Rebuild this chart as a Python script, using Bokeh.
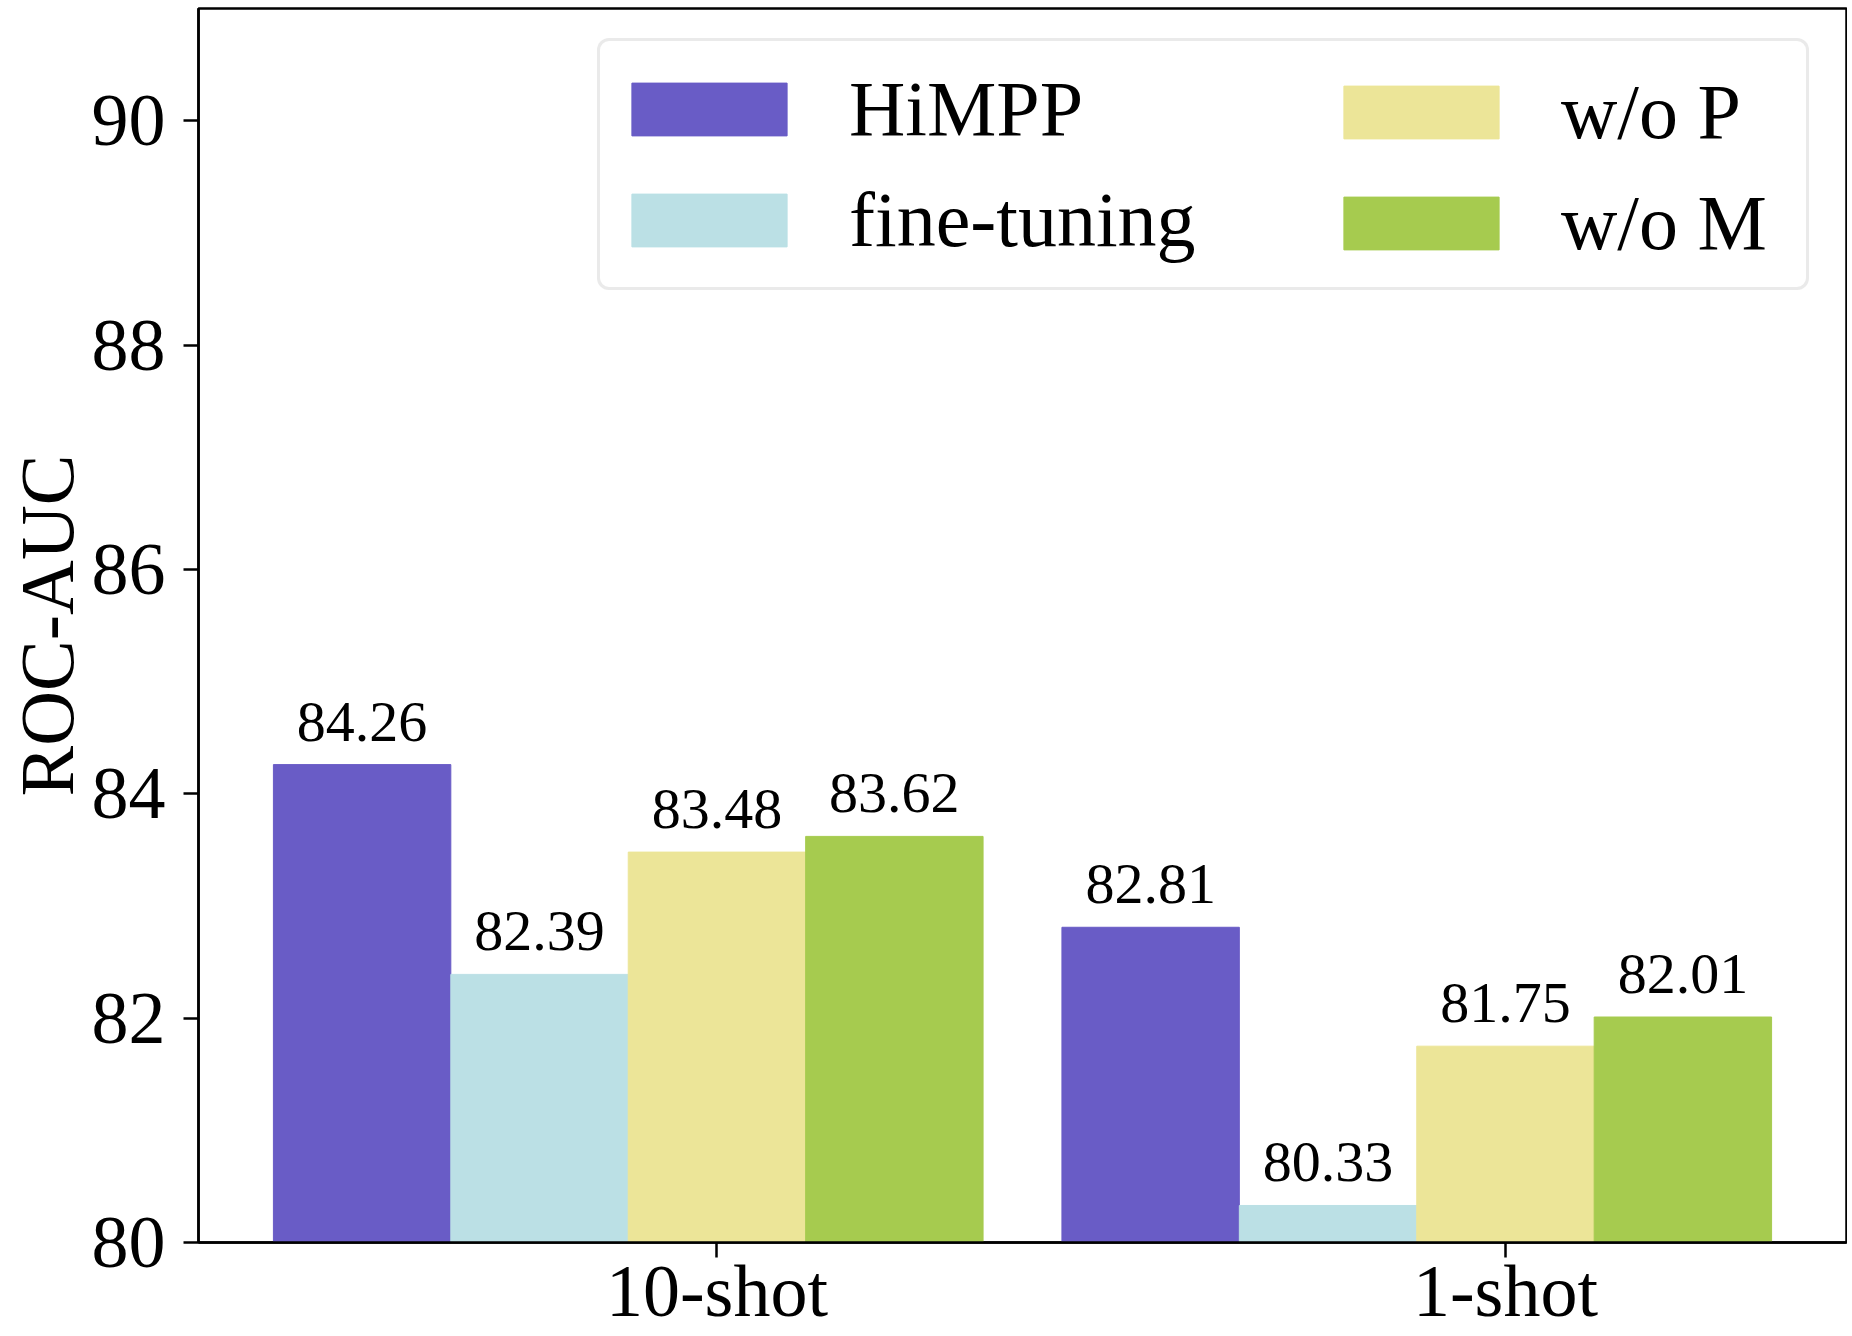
from bokeh.plotting import figure
from bokeh.models import (ColumnDataSource, Range1d, FixedTicker, Legend, LegendItem, LabelSet)
from bokeh.transform import dodge
from bokeh.embed import file_html
from bokeh.resources import INLINE

# ---- data ----
categories = ["10-shot", "1-shot"]
methods = ["HiMPP", "fine-tuning", "w/o P", "w/o M"]
himpp = [84.26, 82.81]
fine_tuning = [82.39, 80.33]
wo_p = [83.48, 81.75]
wo_m = [83.62, 82.01]
y_ticks = [80, 82, 84, 86, 88, 90]
y_label = "ROC-AUC"

# ---- style ----
colors = ["#695CC6", "#BBE0E5", "#ECE598", "#A6CB4F"]
bar_w = 0.225
offsets = [-2 * bar_w, -bar_w, 0.0, bar_w]
FONT = "Liberation Serif"

series = [himpp, fine_tuning, wo_p, wo_m]
data = dict(x=list(range(len(categories))), cat=categories)
for i, vals in enumerate(series):
    data[f"s{i}"] = vals
    data[f"t{i}"] = [f"{v:.2f}" for v in vals]
src = ColumnDataSource(data)

p = figure(width=1847, height=1336, output_backend="svg", toolbar_location=None,
           x_range=Range1d(-0.6575, 1.4325), y_range=Range1d(80, 91),
           min_border_left=198, min_border_right=1, min_border_top=8, min_border_bottom=94)

renderers = []
for i, m in enumerate(methods):
    r = p.vbar(x=dodge("x", offsets[i], range=p.x_range), top=f"s{i}", bottom=80,
               width=bar_w, source=src, fill_color=colors[i], line_color=colors[i], line_width=1)
    renderers.append(r)
    lbl = LabelSet(x=dodge("x", offsets[i], range=p.x_range), y=f"s{i}", text=f"t{i}",
                   source=src, text_align="center", text_baseline="alphabetic",
                   y_offset=24, text_font=FONT, text_font_size="58px", text_color="black")
    p.add_layout(lbl)

# axes
p.xgrid.visible = False
p.ygrid.visible = False
p.outline_line_color = "black"
p.outline_line_width = 2.5
p.outline_line_alpha = 1

p.yaxis.ticker = FixedTicker(ticks=y_ticks)
p.xaxis.ticker = FixedTicker(ticks=list(range(len(categories))))
p.xaxis.major_label_overrides = {i: c for i, c in enumerate(categories)}
for ax in (p.xaxis, p.yaxis):
    ax.axis_line_width = 2.5
    ax.axis_line_color = "black"
    ax.major_tick_line_width = 2.5
    ax.major_tick_line_color = "black"
    ax.major_tick_out = 15
    ax.major_tick_in = 0
    ax.minor_tick_line_color = None
    ax.major_label_text_font = FONT
    ax.major_label_text_font_size = "74px"
    ax.major_label_text_color = "black"
p.xaxis.major_label_standoff = -8
p.yaxis.major_label_standoff = 18
p.yaxis.axis_label = y_label
p.yaxis.axis_label_text_font = FONT
p.yaxis.axis_label_text_font_size = "76px"
p.yaxis.axis_label_text_font_style = "normal"
p.yaxis.axis_label_text_color = "black"
p.yaxis.axis_label_standoff = 0

# legend: two columns, box drawn by the first legend
def make_legend(items, loc, label_width, boxed):
    lg = Legend(items=items, location=loc, orientation="vertical",
                glyph_width=194, glyph_height=66, label_standoff=43,
                label_text_font=FONT, label_text_font_size="78px", label_text_color="black",
                label_width=label_width, label_height=111, padding=12, spacing=0, margin=0)
    if boxed:
        lg.border_line_color = "#d6d6d6"
        lg.border_line_width = 3
        lg.background_fill_color = "white"
        lg.background_fill_alpha = 1
        if "border_radius" in Legend.properties():
            lg.border_radius = 12
    else:
        lg.border_line_alpha = 0
        lg.background_fill_alpha = 0
    return lg

items = [LegendItem(label=m, renderers=[r]) for m, r in zip(methods, renderers)]
legA = make_legend(items[:2], (399, 952), 945, True)
legB = make_legend(items[2:], (1114, 952), 0, False)
p.add_layout(legA)
p.add_layout(legB)

open("out.html", "w").write(file_html(p, INLINE))
